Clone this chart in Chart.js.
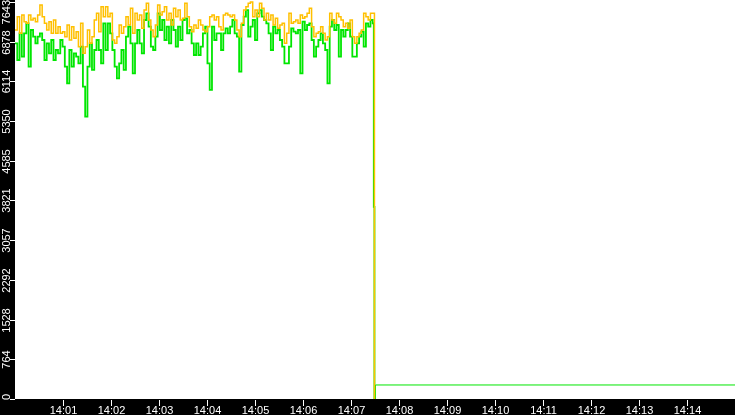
<!DOCTYPE html>
<html>
<head>
<meta charset="utf-8">
<script src="https://cdn.jsdelivr.net/npm/chart.js@4.4.1/dist/chart.umd.min.js"></script>
<style>
  html, body { margin: 0; padding: 0; background: #000; }
  canvas { display: block; }
</style>
</head>
<body>
<canvas id="rateChart" width="735" height="415"></canvas>
<script>
// time axis (seconds after 14:00:00)
const sampleStep = 2.83;
const timeTicks = [60, 120, 180, 240, 300, 360, 420, 480, 540, 600, 660, 720, 780, 840];
const timeLabels = ["14:01", "14:02", "14:03", "14:04", "14:05", "14:06", "14:07",
  "14:08", "14:09", "14:10", "14:11", "14:12", "14:13", "14:14"];

const yTicks = [0, 764.3, 1528.6, 2292.9, 3057.2, 3821.5, 4585.8, 5350.1, 6114.4, 6878.7, 7643];
const yLabels = ["0", "764", "1528", "2292", "3057", "3821", "4585", "5350", "6114", "6878", "7643"];

// upper series (orange)
const orangeValues = [
  7103, 7360, 7039, 7392, 7264, 7232, 7392, 7296, 7328, 7264, 7392, 7585, 7360, 7232, 7103, 7264, 7039, 7296, 7039, 7168,
  7039, 7071, 6975, 7200, 6911, 7168, 6943, 7071, 6783, 7232, 6654, 6783, 7103, 6847, 6975, 7296, 7424, 7071, 7553, 7360,
  7553, 7360, 7424, 6911, 6847, 6975, 7200, 7039, 7168, 7360, 7200, 7521, 7039, 7424, 7296, 7392, 7136, 7488, 7617, 7296,
  7103, 6975, 7200, 7585, 7392, 7456, 7553, 7296, 7424, 7200, 7521, 7360, 7488, 7296, 7328, 7617, 7360, 7168, 7071, 7200,
  7136, 7296, 7200, 7103, 7071, 7168, 7360, 7392, 7296, 7360, 7168, 7103, 7392, 7424, 7392, 7360, 7392, 7296, 7103, 6975,
  7232, 7488, 7553, 7617, 7643, 7360, 7488, 7360, 7617, 7521, 7296, 7424, 7296, 7392, 7200, 7328, 7136, 7200, 7232, 6847,
  7039, 7424, 7232, 7264, 7296, 7232, 7392, 7328, 7360, 7424, 7521, 7168, 6975, 7039, 7071, 7168, 7039, 6911, 6975, 7424,
  7296, 7232, 7424, 7360, 7296, 7168, 7232, 7136, 7296, 6975, 6847, 6975, 7039, 7103, 7424, 7360, 7296, 7424, 7424
];
// lower series (green)
const greenValues = [
  6847, 6526, 7039, 6590, 7039, 7232, 6398, 7103, 6975, 6847, 6975, 7039, 6911, 6526, 6847, 6654, 6911, 6526, 6718, 6654,
  6911, 6783, 6398, 6077, 6718, 6398, 6654, 6590, 6462, 6783, 6013, 5435, 6398, 6847, 6334, 6718, 6911, 6718, 6462, 7232,
  6718, 7232, 7039, 6718, 6398, 6173, 6462, 6718, 6334, 6975, 7168, 6847, 6270, 6847, 7103, 6847, 6654, 7296, 7424, 7168,
  6783, 6718, 6975, 7424, 7103, 7296, 6911, 7168, 6847, 7296, 7103, 6783, 7168, 6911, 7296, 7328, 7039, 7103, 6847, 6622,
  6847, 6622, 6783, 7039, 7168, 6462, 5949, 7168, 6911, 7039, 7039, 6718, 7039, 7136, 7039, 7168, 7296, 7039, 6975, 6302,
  7200, 7360, 7488, 6975, 7168, 7296, 6911, 7424, 7488, 7360, 7296, 7232, 7039, 6718, 7168, 7039, 7103, 6911, 6783, 6462,
  6462, 6783, 7136, 7071, 7039, 7103, 6270, 7264, 7103, 7200, 7232, 6911, 6590, 6783, 6911, 7039, 6847, 6718, 6077, 7168,
  7296, 7103, 7200, 6590, 7103, 6975, 7103, 7232, 6975, 6590, 6590, 6847, 6975, 7071, 6783, 7232, 7168, 7296, 7232
];
// after the drop
const orangeTailTimes = [449.3];
const orangeTailValues = [0];
const greenDropTimes = [448.5, 449.3];
const greenDropValues = [3700, 0];
const greenTailTimes = [449.3, 450.5, 900];
const greenTailValues = [0, 270, 270];

function toPoints(values, tailTimes, tailValues) {
  const pts = values.map((v, i) => ({ x: i * sampleStep, y: v }));
  tailTimes.forEach((t, i) => pts.push({ x: t, y: tailValues[i] }));
  return pts;
}

const frame = {
  id: "frame",
  beforeDraw(chart) {
    const { ctx, chartArea: a } = chart;
    ctx.save();
    ctx.fillStyle = "#000";
    ctx.fillRect(0, 0, chart.width, chart.height);
    ctx.fillStyle = "#fff";
    ctx.fillRect(a.left, a.top, a.right - a.left, a.bottom - a.top);
    ctx.restore();
  },
  afterDraw(chart) {
    const { ctx, chartArea: a } = chart;
    const xs = chart.scales.x, ys = chart.scales.y;
    ctx.save();
    ctx.strokeStyle = "#fff";
    ctx.fillStyle = "#fff";
    ctx.lineWidth = 1;
    ctx.font = "11px 'Liberation Sans'";
    // x ticks
    ctx.textAlign = "center";
    ctx.textBaseline = "alphabetic";
    timeTicks.forEach((t, i) => {
      const px = Math.round(xs.getPixelForValue(t)) + 0.5;
      ctx.beginPath();
      ctx.moveTo(px, a.bottom + 1);
      ctx.lineTo(px, a.bottom + 7);
      ctx.stroke();
      ctx.fillText(timeLabels[i], px, a.bottom + 15);
    });
    // y ticks, labels rotated
    yTicks.forEach((v, i) => {
      const py = Math.round(ys.getPixelForValue(v)) + 0.5;
      ctx.beginPath();
      ctx.moveTo(a.left - 5, py);
      ctx.lineTo(a.left, py);
      ctx.stroke();
      const w = ctx.measureText(yLabels[i]).width;
      let cy = Math.min(Math.max(py, w / 2), a.bottom + 1 - w / 2);
      ctx.save();
      ctx.translate(10, cy);
      ctx.rotate(-Math.PI / 2);
      ctx.fillText(yLabels[i], 0, 0);
      ctx.restore();
    });
    ctx.restore();
  }
};

new Chart(document.getElementById("rateChart"), {
  type: "line",
  data: {
    datasets: [
      {
        label: "max",
        data: toPoints(orangeValues, orangeTailTimes, orangeTailValues),
        borderColor: "#ffc000",
        borderWidth: 1.5,
        stepped: true,
        pointRadius: 0,
      },
      {
        label: "min",
        data: toPoints(greenValues, greenDropTimes, greenDropValues),
        borderColor: "#00e600",
        borderWidth: 1.8,
        stepped: true,
        pointRadius: 0,
      },
      {
        label: "min (idle)",
        data: greenTailTimes.map((t, i) => ({ x: t, y: greenTailValues[i] })),
        borderColor: "#00e600",
        borderWidth: 1,
        stepped: true,
        pointRadius: 0,
      },
    ],
  },
  options: {
    responsive: false,
    animation: false,
    layout: { padding: { left: 15, bottom: 16, top: 0, right: 0 } },
    scales: {
      x: { type: "linear", min: 0, max: 900, display: false },
      y: { min: 0, max: 7681, display: false },
    },
    plugins: { legend: { display: false }, tooltip: { enabled: false } },
  },
  plugins: [frame],
});
</script>
</body>
</html>
